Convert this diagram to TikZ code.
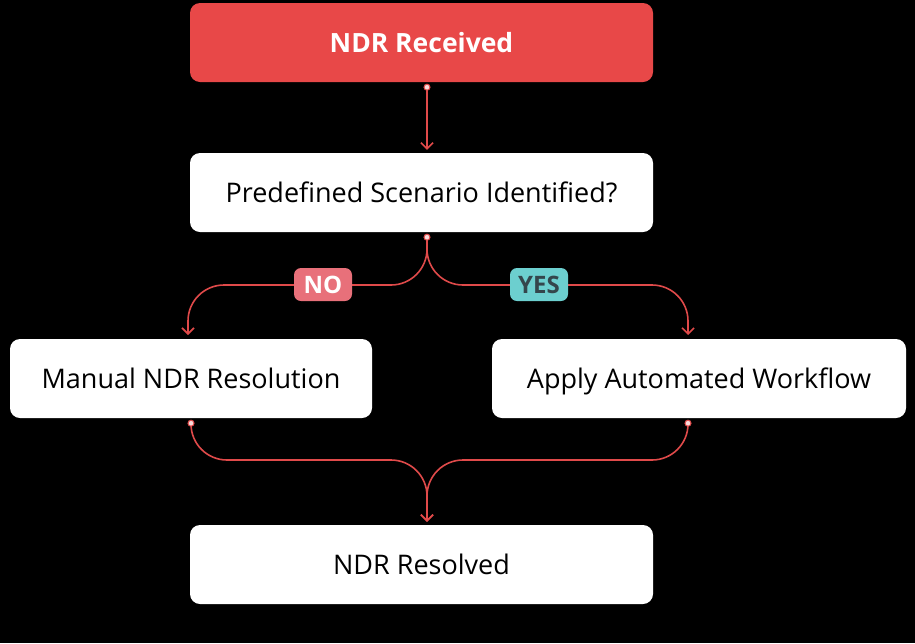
\documentclass[tikz,border=0pt]{standalone}
\usepackage{fontspec}
\setmainfont{Open Sans}
\usetikzlibrary{arrows.meta}
\definecolor{ndrred}{HTML}{E84848}
\definecolor{linered}{HTML}{E04A4A}
\definecolor{nopink}{HTML}{E8707A}
\definecolor{yesteal}{HTML}{6CCFCF}
\definecolor{yestext}{HTML}{34464C}
\begin{document}
\begin{tikzpicture}[x=1pt,y=-1pt,
		box/.style={rounded corners=10pt,minimum height=79pt,font=\fontsize{27}{32}\selectfont,inner sep=0pt,text height=19.3pt,text depth=0pt},
		whitebox/.style={box,fill=white,text=black},
		tag/.style={rounded corners=7pt,minimum width=58pt,minimum height=33pt,inner sep=0pt,text height=17pt,text depth=0pt,font=\fontsize{24}{28}\selectfont\bfseries},
		link/.style={draw=linered,line width=1.6pt,rounded corners=36pt,-{Straight Barb[length=6pt,width=12pt]}},
		dot/.style={circle,draw=linered,fill=white!80!linered,line width=1pt,minimum size=6pt,inner sep=0pt}]
		\fill[black] (0,0) rectangle (915,643);
		\useasboundingbox (0,0) rectangle (915,643);

		\node[box,fill=ndrred,text=white,minimum width=463pt,font=\fontsize{26.5}{32}\selectfont\bfseries] (received) at (421.5,42.5) {NDR Received};
		\node[whitebox,minimum width=463pt] (scenario) at (421.5,192.5) {Predefined Scenario Identified?};
		\node[whitebox,minimum width=362pt] (manual) at (191,378.5) {Manual NDR Resolution};
		\node[whitebox,minimum width=414pt] (auto) at (699,378.5) {Apply Automated Workflow};
		\node[whitebox,minimum width=463pt] (resolved) at (421.5,564.5) {NDR Resolved};

		\coordinate (d1) at ([xshift=5.5pt,yshift=-5pt]received.south);
		\coordinate (d2) at ([xshift=5.5pt,yshift=-5pt]scenario.south);
		\coordinate (d3) at ([yshift=-5pt]manual.south);
		\coordinate (d4) at ([xshift=-11pt,yshift=-5pt]auto.south);

		\draw[link] (d1) -- ([xshift=5.5pt,yshift=3pt]scenario.north);
		\draw[link] (d2) -- (427,285) -- (188,285) -- (188,335);
		\draw[link] (d2) -- (427,285) -- (688,285) -- (688,335);
		\draw[link] (d3) -- (191,460) -- (427,460) -- ([xshift=5.5pt,yshift=3pt]resolved.north);
		\draw[link] (d4) -- (688,460) -- (427,460) -- ([xshift=5.5pt,yshift=3pt]resolved.north);

		\node[dot] at (d1) {};
		\node[dot] at (d2) {};
		\node[dot] at (d3) {};
		\node[dot] at (d4) {};

		\node[tag,fill=nopink,text=white] (no) at (323,284.5) {NO};
		\node[tag,fill=yesteal,text=yestext] (yes) at (539,284.5) {YES};
	\end{tikzpicture}
\end{document}
